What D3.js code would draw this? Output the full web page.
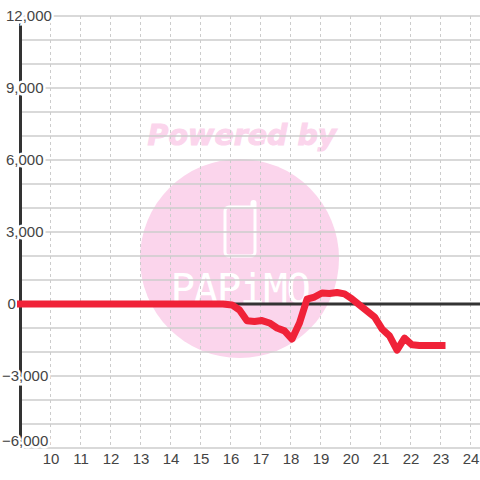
<!DOCTYPE html>
<html>
<head>
<meta charset="utf-8">
<style>
  html, body { margin: 0; padding: 0; background: #fff; }
  svg { display: block; }
  text { font-family: "Liberation Sans", Arial, sans-serif; fill: #444; }
</style>
</head>
<body>
<svg id="chart" width="480" height="480"></svg>
<script src="https://cdn.jsdelivr.net/npm/d3@7"></script>
<script>
const hours = [
  9, 9.25, 9.5, 9.75, 10, 10.25, 10.5, 10.75, 11, 11.25, 11.5, 11.75,
  12, 12.25, 12.5, 12.75, 13, 13.25, 13.5, 13.75, 14, 14.25, 14.5, 14.75,
  15, 15.25, 15.5, 15.75, 16.05, 16.3, 16.55, 16.8, 17.05, 17.3, 17.55, 17.8,
  18.05, 18.3, 18.55, 18.8, 19.05, 19.3, 19.55, 19.8, 20.05, 20.3, 20.55, 20.8,
  21.05, 21.3, 21.55, 21.8, 22.05, 22.3, 22.55, 22.8, 23.05
];
const values = [
  0, 0, 0, 0, 0, 0, 0, 0, 0, 0, 0, 0,
  0, 0, 0, 0, 0, 0, 0, 0, 0, 0, 0, 0,
  0, 0, 0, 0, -40, -250, -700, -730, -690, -790, -1000, -1120,
  -1460, -790, 200, 290, 460, 440, 480, 420, 210, -40, -290, -540,
  -1040, -1330, -1920, -1420, -1700, -1730, -1730, -1730, -1730
];
const xTicks = [10, 11, 12, 13, 14, 15, 16, 17, 18, 19, 20, 21, 22, 23, 24];
const yTicks = [-6000, -3000, 0, 3000, 6000, 9000, 12000];
const yGrid = [-6000, -5000, -4000, -3000, -2000, -1000, 0, 1000, 2000, 3000,
  4000, 5000, 6000, 7000, 8000, 9000, 10000, 11000, 12000];

const svg = d3.select('#chart');
const width = 480;

const x = d3.scaleLinear().domain([9, 24]).range([20.5, 470.5]);
const y = d3.scaleLinear().domain([-6000, 12000]).range([448, 16]);

// watermark
const mark = svg.append('g');
mark.append('circle')
  .attr('cx', 239.5).attr('cy', 258.5).attr('r', 99.5)
  .attr('fill', '#fbd5ec');
mark.append('text')
  .attr('x', 242).attr('y', 145)
  .attr('text-anchor', 'middle')
  .style('font-family', '"DejaVu Sans"')
  .style('font-weight', 'bold')
  .style('font-style', 'oblique')
  .style('font-size', '28.5px')
  .style('fill', '#fbd5ec')
  .style('stroke', '#fbd5ec')
  .style('stroke-width', '1px')
  .text('Powered by');
mark.append('path')
  .attr('d', 'M252 207H229a4 4 0 0 0 -4 4V252a4 4 0 0 0 4 4H251a4 4 0 0 0 4 -4V203a1.5 1.5 0 0 0 -3 0Z')
  .attr('fill', 'none')
  .attr('stroke', '#fff')
  .attr('stroke-width', 3);
mark.append('text')
  .attr('x', 240).attr('y', 303)
  .attr('text-anchor', 'middle')
  .style('font-family', '"DejaVu Sans Mono"')
  .style('font-size', '41px')
  .style('letter-spacing', '-1.5px')
  .style('fill', '#fff')
  .text('PAPiMO');

// grid
svg.append('g')
  .attr('stroke', '#ccc')
  .attr('stroke-width', 1.5)
  .selectAll('line')
  .data(yGrid)
  .join('line')
  .attr('x1', x(9)).attr('x2', width)
  .attr('y1', d => y(d)).attr('y2', d => y(d));

svg.append('g')
  .attr('stroke', '#ccc')
  .attr('stroke-dasharray', '3,3')
  .selectAll('line')
  .data(xTicks)
  .join('line')
  .attr('x1', d => x(d)).attr('x2', d => x(d))
  .attr('y1', y(12000)).attr('y2', y(-6000));

// axis lines
svg.append('line')
  .attr('x1', x(9)).attr('x2', x(9))
  .attr('y1', y(12000)).attr('y2', y(-6000))
  .attr('stroke', '#333').attr('stroke-width', 3);
svg.append('line')
  .attr('x1', x(9)).attr('x2', width)
  .attr('y1', y(0)).attr('y2', y(0))
  .attr('stroke', '#333').attr('stroke-width', 3);

// tick labels
const xAxis = d3.axisBottom(x).tickValues(xTicks).tickSize(0).tickPadding(5);
svg.append('g')
  .attr('transform', `translate(0,${y(-6000)})`)
  .call(xAxis)
  .call(g => g.select('.domain').remove())
  .call(g => g.selectAll('text')
    .style('font-family', '"Liberation Sans"')
    .style('font-size', '15px')
    .style('fill', '#444'));

// labels are left aligned, the minus ones and the 0 sit a bit off
const yAxis = d3.axisLeft(y).tickValues(yTicks).tickSize(0).tickFormat(d3.format(','));
svg.append('g')
  .call(yAxis)
  .call(g => g.select('.domain').remove())
  .call(g => g.selectAll('text')
    .attr('text-anchor', 'start')
    .attr('x', d => d < 0 ? 2 : d === 0 ? 7.5 : 6)
    .attr('y', d => d === -6000 ? -7 : 0)
    .style('font-family', '"Liberation Sans"')
    .style('font-size', '15px')
    .style('fill', '#444')
    .style('paint-order', 'stroke')
    .style('stroke', '#fff')
    .style('stroke-width', '5px'));

// series
const line = d3.line()
  .x((d, i) => x(hours[i]))
  .y(d => y(d));

svg.append('path')
  .datum(values)
  .attr('d', line)
  .attr('fill', 'none')
  .attr('stroke', '#f02238')
  .attr('stroke-width', 7)
  .attr('stroke-linejoin', 'round')
  .attr('stroke-linecap', 'square');
</script>
</body>
</html>
